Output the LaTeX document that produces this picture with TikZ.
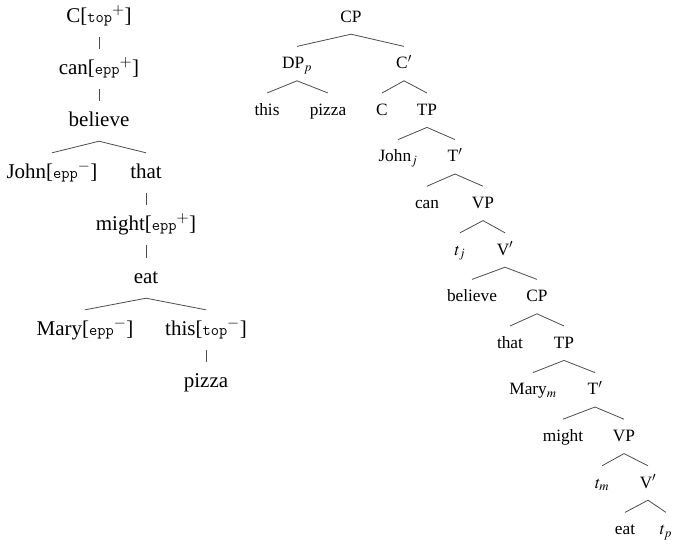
\documentclass[tikz,border=0pt]{standalone}
\usepackage{mathptmx}
\usepackage{fontspec}
\setmainfont{Liberation Serif}
\usepackage{tikz}
\usetikzlibrary{positioning}

\newcommand{\feat}[2]{[{\ttfamily\fontsize{16}{16}\selectfont #1}$^{#2}$]}

\begin{document}
\begin{tikzpicture}[x=1pt,y=-1pt,
  lw/.style={font=\fontsize{21}{21}\selectfont, anchor=base, text height=15pt, text depth=5pt, inner ysep=10pt, inner xsep=0pt},
  rw/.style={font=\fontsize{17.3}{17}\selectfont, anchor=base, text height=14pt, text depth=4pt, inner ysep=8pt, inner xsep=0pt},
  br/.style={draw=black!70, line width=0.8pt}]
  \useasboundingbox (0,0) rectangle (674,544);

  % Left tree: words with features
  \node[lw] (lC) at (99,22) {C\feat{top}{+}};
  \node[lw] (lcan) at (99,74) {can\feat{epp}{+}};
  \node[lw] (lbel) at (99,126) {believe};
  \node[lw] (lJohn) at (52,178) {John\feat{epp}{-}};
  \node[lw] (lthat) at (146,178) {that};
  \node[lw] (lmight) at (146,230) {might\feat{epp}{+}};
  \node[lw] (leat) at (146,283) {eat};
  \node[lw] (lMary) at (85,335) {Mary\feat{epp}{-}};
  \node[lw] (lthis) at (206,335) {this\feat{top}{-}};
  \node[lw] (lpizza) at (206,387) {pizza};

  % Left tree: branches
  \draw[br] (lC.south) -- (lcan.north);
  \draw[br] (lcan.south) -- (lbel.north);
  \draw[br] (lJohn.north) -- (lbel.south) -- (lthat.north);
  \draw[br] (lthat.south) -- (lmight.north);
  \draw[br] (lmight.south) -- (leat.north);
  \draw[br] (lMary.north) -- (leat.south) -- (lthis.north);
  \draw[br] (lthis.south) -- (lpizza.north);

  % Right tree: labels
  \node[rw] (rCP) at (351,22) {CP};
  \node[rw] (rDP) at (297,68.6) {DP$_p$};
  \node[rw] (rCb) at (404,68.6) {C$'$};
  \node[rw] (rthis) at (267,115.2) {this};
  \node[rw] (rpizza) at (328,115.2) {pizza};
  \node[rw] (rC) at (382,115.2) {C};
  \node[rw] (rTP) at (427,115.2) {TP};
  \node[rw] (rJohn) at (398,161.8) {John$_j$};
  \node[rw] (rTb) at (455,161.8) {T$'$};
  \node[rw] (rcan) at (427,208.4) {can};
  \node[rw] (rVP) at (483,208.4) {VP};
  \node[rw] (rtj) at (460,255) {$t_j$};
  \node[rw] (rVb) at (505,255) {V$'$};
  \node[rw] (rbel) at (472,301.6) {believe};
  \node[rw] (rCP2) at (537,301.6) {CP};
  \node[rw] (rthat) at (510,348.2) {that};
  \node[rw] (rTP2) at (564,348.2) {TP};
  \node[rw] (rMary) at (533,394.8) {Mary$_m$};
  \node[rw] (rTb2) at (595,394.8) {T$'$};
  \node[rw] (rmight) at (563,441.4) {might};
  \node[rw] (rVP2) at (624,441.4) {VP};
  \node[rw] (rtm) at (602,488) {$t_m$};
  \node[rw] (rVb2) at (648,488) {V$'$};
  \node[rw] (reat) at (625,534.6) {eat};
  \node[rw] (rtp) at (666,534.6) {$t_p$};

  % Right tree: branches
  \draw[br] (rDP.north) -- (rCP.south) -- (rCb.north);
  \draw[br] (rthis.north) -- (rDP.south) -- (rpizza.north);
  \draw[br] (rC.north) -- (rCb.south) -- (rTP.north);
  \draw[br] (rJohn.north) -- (rTP.south) -- (rTb.north);
  \draw[br] (rcan.north) -- (rTb.south) -- (rVP.north);
  \draw[br] (rtj.north) -- (rVP.south) -- (rVb.north);
  \draw[br] (rbel.north) -- (rVb.south) -- (rCP2.north);
  \draw[br] (rthat.north) -- (rCP2.south) -- (rTP2.north);
  \draw[br] (rMary.north) -- (rTP2.south) -- (rTb2.north);
  \draw[br] (rmight.north) -- (rTb2.south) -- (rVP2.north);
  \draw[br] (rtm.north) -- (rVP2.south) -- (rVb2.north);
  \draw[br] (reat.north) -- (rVb2.south) -- (rtp.north);
\end{tikzpicture}
\end{document}
